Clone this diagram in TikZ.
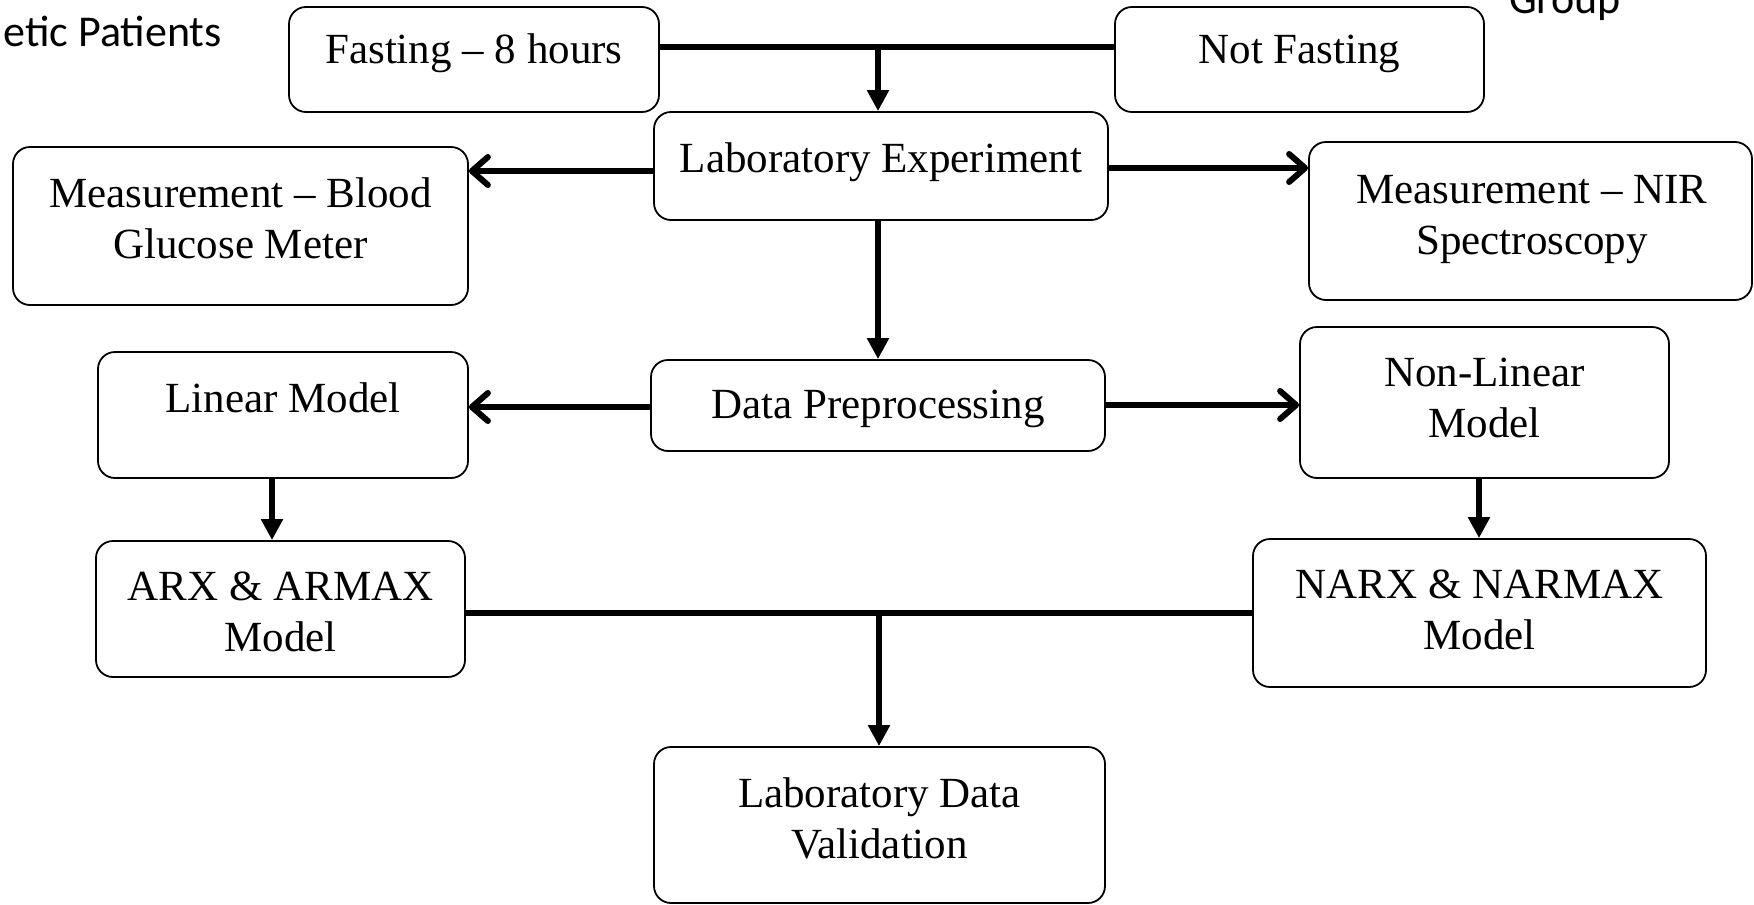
\documentclass[tikz,border=0pt]{standalone}
\usepackage{fontspec}
\setmainfont{Liberation Serif}
\newfontfamily\calfont{Carlito}
\usetikzlibrary{arrows.meta}
\begin{document}
\begin{tikzpicture}[x=1pt,y=-1pt,
  box/.style={draw, line width=1.8pt, rounded corners=17pt, inner sep=0pt},
  lbl/.style={font=\fontsize{43}{51}\selectfont, inner sep=0pt, align=center, anchor=base},
  side/.style={font=\calfont\fontsize{44}{53}\selectfont, inner sep=0pt},
  conn/.style={line width=6pt},
  tri/.style={conn, -{Triangle[length=21pt,width=21pt]}},
  chev/.style={conn, -{Straight Barb[length=16pt,width=28pt,round]}},
]
\useasboundingbox (0,0) rectangle (1754,905);

% side labels (cut off at the page edge)
\node[side, anchor=base east] (pat) at (222,46) {etic Patients};
\node[side, anchor=base west] (grp) at (1509,13) {Group};

% boxes (two-line texts are placed by the baseline of their last line)
\node[box, minimum width=370pt, minimum height=105pt] (fast) at (474,59.5) {};
\node[lbl] (fast-t) at (474,63) {Fasting -- 8 hours};

\node[box, minimum width=369pt, minimum height=105pt] (nf) at (1299.5,59.5) {};
\node[lbl] (nf-t) at (1299.5,63) {Not Fasting};

\node[box, minimum width=454pt, minimum height=108pt] (lab) at (881,166) {};
\node[lbl] (lab-t) at (881,172) {Laboratory Experiment};

\node[box, minimum width=455pt, minimum height=158pt] (blood) at (240.5,226) {};
\node[lbl] (blood-t) at (240.5,258) {Measurement -- Blood\\Glucose Meter};

\node[box, minimum width=443pt, minimum height=158pt] (nir) at (1530.5,221) {};
\node[lbl] (nir-t) at (1532,254) {Measurement -- NIR\\Spectroscopy};

\node[box, minimum width=454pt, minimum height=91pt] (dp) at (878,405.5) {};
\node[lbl] (dp-t) at (878,418) {Data Preprocessing};

\node[box, minimum width=370pt, minimum height=126pt] (lin) at (283,415) {};
\node[lbl] (lin-t) at (283,412) {Linear Model};

\node[box, minimum width=369pt, minimum height=151pt] (nlin) at (1484.5,402.5) {};
\node[lbl] (nlin-t) at (1484.5,437) {Non-Linear\\Model};

\node[box, minimum width=369pt, minimum height=136pt] (arx) at (280.5,609) {};
\node[lbl] (arx-t) at (280.5,651) {ARX \& ARMAX\\Model};

\node[box, minimum width=453pt, minimum height=148pt] (narx) at (1479.5,613) {};
\node[lbl] (narx-t) at (1479.5,649) {NARX \& NARMAX\\Model};

\node[box, minimum width=451pt, minimum height=156pt] (val) at (879.5,825) {};
\node[lbl] (val-t) at (879.5,858) {Laboratory Data\\Validation};

% connectors
\coordinate (j1) at (878,47);
\draw[conn] (j1 -| fast.east) -- (j1 -| nf.west);
\draw[tri] (j1) -- (j1 |- lab.north);

\coordinate (c1) at (0,171);
\draw[chev] (c1 -| lab.west) -- (c1 -| blood.east);
\coordinate (c2) at (0,168);
\draw[chev] (c2 -| lab.east) -- (c2 -| nir.west);

\draw[tri] (j1 |- lab.south) -- (j1 |- dp.north);

\coordinate (c3) at (0,407);
\draw[chev] (c3 -| dp.west) -- (c3 -| lin.east);
\coordinate (c4) at (0,405);
\draw[chev] (c4 -| dp.east) -- (c4 -| nlin.west);

\coordinate (c5) at (272,0);
\draw[tri] (c5 |- lin.south) -- (c5 |- arx.north);
\coordinate (c6) at (1479,0);
\draw[tri] (c6 |- nlin.south) -- (c6 |- narx.north);

\coordinate (j2) at (879,613);
\draw[conn] (j2 -| arx.east) -- (j2 -| narx.west);
\draw[tri] (j2) -- (j2 |- val.north);
\end{tikzpicture}
\end{document}
